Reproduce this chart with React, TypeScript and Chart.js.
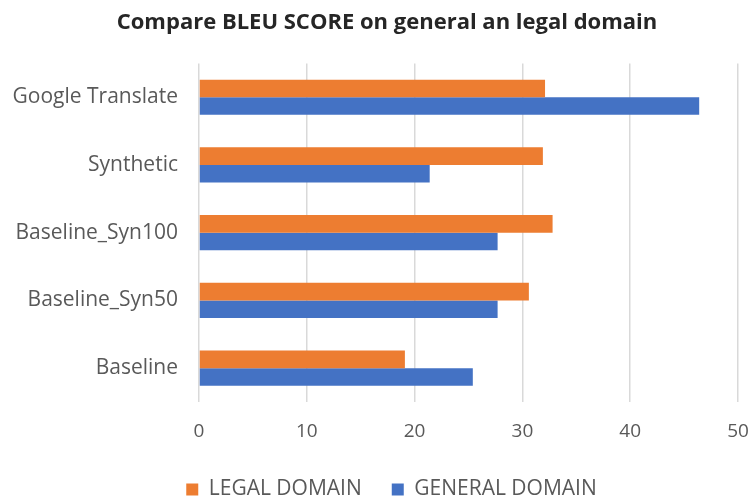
import React, { useEffect, useRef } from "react";
import { Chart, registerables } from "chart.js";

Chart.register(...registerables);

const categories = ["Google Translate", "Synthetic", "Baseline_Syn100", "Baseline_Syn50", "Baseline"];
const legalDomain = [32.1, 31.9, 32.8, 30.6, 19.1];
const generalDomain = [46.4, 21.4, 27.7, 27.7, 25.4];
const seriesNames = ["LEGAL DOMAIN", "GENERAL DOMAIN"];
const titleText = "Compare BLEU SCORE on general an legal domain";

const shiftBlocks = {
  id: "shiftBlocks",
  afterLayout(chart: any) {
    if (chart.titleBlock) chart.titleBlock.left += 36;
    if (chart.legend) chart.legend.left += 45;
  },
};

export default function App() {
  const ref = useRef<HTMLCanvasElement | null>(null);
  useEffect(() => {
    document.body.style.margin = "0";
    const ctx = ref.current!;
    const font = "'Open Sans', 'Liberation Sans', sans-serif";
    const chart = new Chart(ctx, {
      type: "bar",
      data: {
        labels: categories,
        datasets: [
          { label: seriesNames[0], data: legalDomain, backgroundColor: "#ED7D31", borderWidth: 0 },
          { label: seriesNames[1], data: generalDomain, backgroundColor: "#4472C4", borderWidth: 0 },
        ],
      },
      plugins: [shiftBlocks],
      options: {
        indexAxis: "y",
        responsive: false,
        animation: false,
        maintainAspectRatio: false,
        layout: { padding: { left: 0, right: 13, top: 4, bottom: -6 } },
        datasets: { bar: { categoryPercentage: 0.52, barPercentage: 1 } },
        plugins: {
          title: {
            display: true,
            text: titleText,
            color: "#262626",
            font: { family: font, size: 22, weight: "bold" },
            padding: { top: 6, bottom: 27 },
          },
          legend: {
            position: "bottom",
            labels: {
              boxWidth: 12,
              boxHeight: 12,
              color: "#595959",
              font: { family: font, size: 21 },
              padding: 30,
            },
          },
          tooltip: { enabled: false },
        },
        scales: {
          x: {
            min: 0,
            max: 50,
            afterFit: (s: any) => { s.height = 47; s.paddingRight = 0; },
            ticks: { stepSize: 10, color: "#595959", font: { family: font, size: 19 }, padding: 18 },
            grid: { color: "#d9d9d9", lineWidth: 1.5, drawTicks: false },
            border: { display: false },
          },
          y: {
            afterFit: (s: any) => { s.width = 199; },
            ticks: { color: "#595959", font: { family: font, size: 21 }, padding: 21 },
            grid: { display: false, drawTicks: false },
            border: { display: false },
          },
        },
      },
    });
    return () => chart.destroy();
  }, []);
  return (
    <div style={{ width: 751, height: 504 }}>
      <canvas ref={ref} width={751} height={504} style={{ width: 751, height: 504 }} />
    </div>
  );
}
